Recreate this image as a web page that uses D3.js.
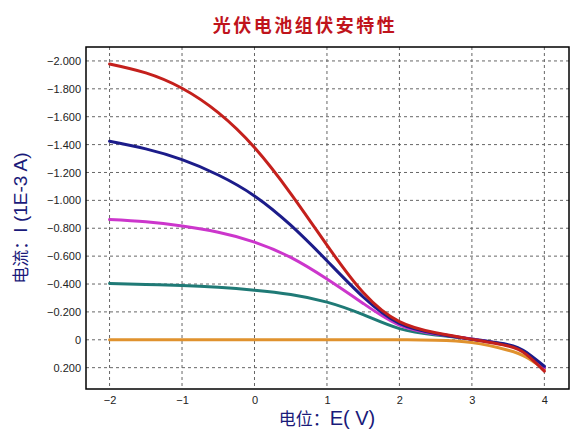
<!DOCTYPE html>
<html>
<head>
<meta charset="utf-8">
<script src="https://cdn.jsdelivr.net/npm/d3@7"></script>
<style>
  body { margin: 0; background: #fff; }
  svg { display: block; }
</style>
</head>
<body>
<svg id="chart" width="586" height="437"></svg>
<script>
// voltage points (V) and currents (1E-3 A)
var voltage = [-2, -1.5, -1, -0.5, 0, 0.5, 1, 1.5, 2, 2.5, 3, 3.5, 3.75, 4];
var red     = [-1.978, -1.914, -1.804, -1.629, -1.379, -1.049, -0.679, -0.339, -0.13, -0.05, -0.003, 0.045, 0.105, 0.225];
var blue    = [-1.424, -1.369, -1.292, -1.182, -1.032, -0.822, -0.567, -0.307, -0.117, -0.045, -0.003, 0.035, 0.09, 0.19];
var magenta = [-0.862, -0.846, -0.816, -0.771, -0.701, -0.591, -0.436, -0.261, -0.105, -0.042, -0.005, 0.04, 0.095, 0.20];
var teal    = [-0.404, -0.396, -0.39, -0.377, -0.356, -0.325, -0.27, -0.18, -0.08, -0.035, -0.005, 0.04, 0.095, 0.20];
var orange  = [0, 0, 0, 0, 0, 0, 0, 0, 0, 0.003, 0.02, 0.075, 0.125, 0.21];

var xTicks = [-2, -1, 0, 1, 2, 3, 4];
var yTicks = [-2, -1.8, -1.6, -1.4, -1.2, -1, -0.8, -0.6, -0.4, -0.2, 0, 0.2];

var series = [
  { vals: orange,  color: "#e0922e" },
  { vals: teal,    color: "#1f7a76" },
  { vals: magenta, color: "#cc36cc" },
  { vals: blue,    color: "#1c1c8a" },
  { vals: red,     color: "#c4201c" }
];

var svg = d3.select("#chart");
var margin = {left: 86, right: 17, top: 47, bottom: 48},
    width  = +svg.attr("width")  - margin.left - margin.right,
    height = +svg.attr("height") - margin.top  - margin.bottom;

var x = d3.scaleLinear().domain([-2.325, 4.34]).range([0, width]);
var y = d3.scaleLinear().domain([-2.10, 0.353]).range([0, height]);

var g = svg.append("g")
    .attr("transform", "translate(" + margin.left + "," + margin.top + ")");

// grid
g.append("g").selectAll("line").data(xTicks).join("line")
    .attr("x1", d => x(d)).attr("x2", d => x(d))
    .attr("y1", 0).attr("y2", height)
    .attr("stroke", "#666").attr("stroke-dasharray", "3,3");
g.append("g").selectAll("line").data(yTicks).join("line")
    .attr("y1", d => y(d)).attr("y2", d => y(d))
    .attr("x1", 0).attr("x2", width)
    .attr("stroke", "#666").attr("stroke-dasharray", "3,3");

// axes (labels only, the frame is drawn below)
var fmtY = function(d){ return d === 0 ? "0" : d3.format(".3f")(d); };
var yAxis = g.append("g")
    .call(d3.axisLeft(y).tickValues(yTicks).tickFormat(fmtY).tickSize(0).tickPadding(5));
var xAxis = g.append("g")
    .attr("transform", "translate(0," + height + ")")
    .call(d3.axisBottom(x).tickValues(xTicks).tickFormat(d3.format("d")).tickSize(0).tickPadding(7));
[xAxis, yAxis].forEach(function(a){
  a.select(".domain").remove();
  a.selectAll("text")
    .attr("font-family", "Arial, 'Liberation Sans', sans-serif")
    .attr("font-size", "11px")
    .attr("fill", "#222");
});

// curves
var line = d3.line()
    .x(function(d){ return x(d[0]); })
    .y(function(d){ return y(d[1]); })
    .curve(d3.curveNatural);

series.forEach(function(s){
  g.append("path")
    .datum(voltage.map(function(v, i){ return [v, s.vals[i]]; }))
    .attr("fill", "none")
    .attr("stroke", s.color)
    .attr("stroke-width", 3)
    .attr("stroke-linecap", "round")
    .attr("d", line);
});

// frame
g.append("rect")
    .attr("width", width).attr("height", height)
    .attr("fill", "none").attr("stroke", "#000").attr("stroke-width", 1.5);

// title
svg.append("text")
    .attr("x", 305).attr("y", 32)
    .attr("text-anchor", "middle")
    .attr("font-family", "'Noto Sans CJK SC', sans-serif")
    .attr("font-weight", "bold")
    .attr("font-size", "18px")
    .attr("letter-spacing", "2.5px")
    .attr("fill", "#c0141c")
    .text("光伏电池组伏安特性");

// y label
var yl = svg.append("text")
    .attr("transform", "translate(27,218) rotate(-90)")
    .attr("text-anchor", "middle")
    .attr("fill", "#1a1a7a");
yl.append("tspan")
    .attr("font-family", "'Noto Sans CJK SC', sans-serif")
    .attr("font-size", "17px")
    .text("电流：");
yl.append("tspan")
    .attr("font-family", "Arial, 'Liberation Sans', sans-serif")
    .attr("font-size", "19px")
    .text("I (1E-3 A)");

// x label
var xl = svg.append("text")
    .attr("x", 327).attr("y", 425)
    .attr("text-anchor", "middle")
    .attr("fill", "#1a1a7a");
xl.append("tspan")
    .attr("font-family", "'Noto Sans CJK SC', sans-serif")
    .attr("font-size", "17px")
    .text("电位：");
xl.append("tspan")
    .attr("font-family", "Arial, 'Liberation Sans', sans-serif")
    .attr("font-size", "20px")
    .text("E( V)");
</script>
</body>
</html>
